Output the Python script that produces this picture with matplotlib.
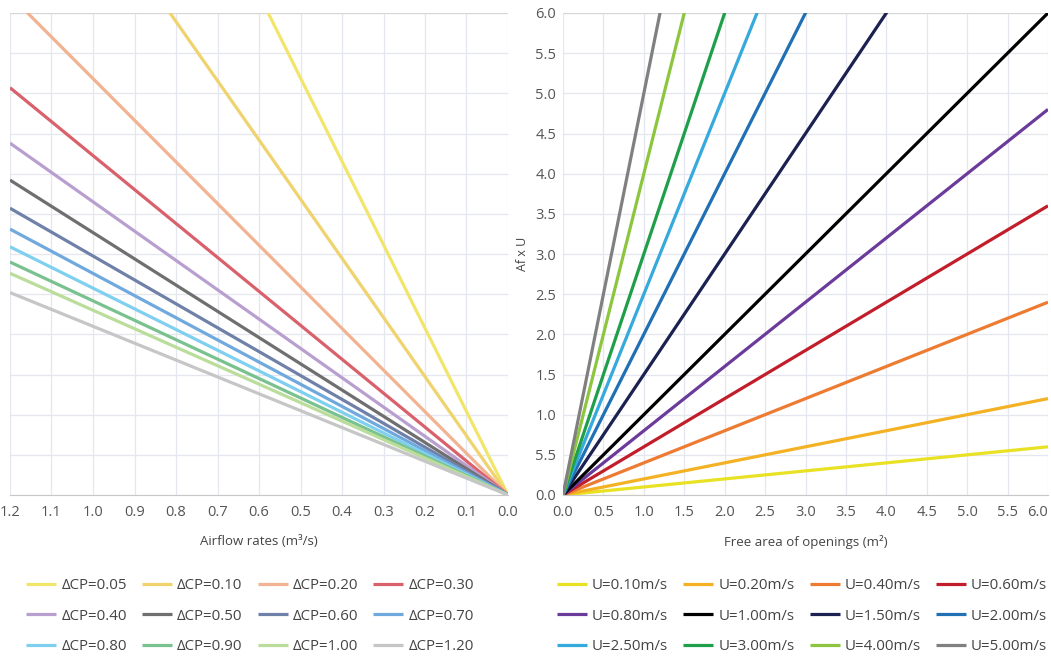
import matplotlib.pyplot as plt

plt.rcParams['font.family'] = ['Open Sans', 'DejaVu Sans']

# left panel: airflow lines, value of each line at x = 1.2
dcp_labels = ['ΔCP=0.05', 'ΔCP=0.10', 'ΔCP=0.20', 'ΔCP=0.30',
              'ΔCP=0.40', 'ΔCP=0.50', 'ΔCP=0.60', 'ΔCP=0.70',
              'ΔCP=0.80', 'ΔCP=0.90', 'ΔCP=1.00', 'ΔCP=1.20']
dcp_x = [0.0, 1.2]
dcp_end = [12.46, 8.84, 6.22, 5.07, 4.38, 3.92, 3.57, 3.31, 3.09, 2.90, 2.76, 2.52]
dcp_colors = ['#f1e56c', '#f0d36e', '#f1b391', '#d9616c', '#b99fcf', '#6f6f6f',
              '#6f80a9', '#70a9dd', '#7fd0ee', '#79c18e', '#badd9b', '#c6c6c6']

# right panel: Af x U lines, value of each line at x = 6.0
u_labels = ['U=0.10m/s', 'U=0.20m/s', 'U=0.40m/s', 'U=0.60m/s',
            'U=0.80m/s', 'U=1.00m/s', 'U=1.50m/s', 'U=2.00m/s',
            'U=2.50m/s', 'U=3.00m/s', 'U=4.00m/s', 'U=5.00m/s']
u_x = [0.0, 6.0]
u_end = [0.6, 1.2, 2.4, 3.6, 4.8, 6.0, 9.0, 12.0, 15.0, 18.0, 24.0, 30.0]
u_colors = ['#e9e123', '#f3b123', '#ed7b32', '#c11d2a', '#6b3b9b', '#000000',
            '#1b2150', '#2070b5', '#36a9dd', '#1f9f4a', '#8dc53e', '#808080']

x_ticks = [0.0, 0.1, 0.2, 0.3, 0.4, 0.5, 0.6, 0.7, 0.8, 0.9, 1.0, 1.1, 1.2]
x_ticks_r = [0.0, 0.5, 1.0, 1.5, 2.0, 2.5, 3.0, 3.5, 4.0, 4.5, 5.0, 5.5, 6.0]
y_ticks = [0.0, 0.5, 1.0, 1.5, 2.0, 2.5, 3.0, 3.5, 4.0, 4.5, 5.0, 5.5, 6.0]
y_ticklabels = ['0.0', '5.5', '1.0', '1.5', '2.0', '2.5', '3.0', '3.5',
                '4.0', '4.5', '5.0', '5.5', '6.0']

W, H = 1051, 657
fig = plt.figure(figsize=(W / 100, H / 100), dpi=100)

ax1 = fig.add_axes([10 / W, (H - 495) / H, 498 / W, 482 / H])
ax2 = fig.add_axes([563 / W, (H - 495) / H, 485 / W, 482 / H])

grid_c = '#e4e7ef'
tick_c = '#555555'

for ax in (ax1, ax2):
    ax.set_ylim(0, 6)
    ax.set_yticks(y_ticks)
    ax.grid(True, color=grid_c, linewidth=0.9)
    ax.set_axisbelow(True)
    for s in ('top', 'right', 'left'):
        ax.spines[s].set_visible(False)
    ax.spines['bottom'].set_color('#c8c8c8')
    ax.tick_params(length=0, labelsize=10.5, labelcolor=tick_c, pad=7)
    ax.tick_params(axis='y', pad=5)
    ax.axhline(6, color='#d6d6d6', linewidth=1.5, zorder=1)

# left
lines1 = []
for lab, end, c in zip(dcp_labels, dcp_end, dcp_colors):
    ln, = ax1.plot(dcp_x, [0, end], color=c, linewidth=2.3, label=lab,
                   solid_capstyle='butt')
    lines1.append(ln)
ax1.set_xlim(1.2, 0.0)
ax1.set_xticks(x_ticks)
ax1.set_xticklabels(['%.1f' % v for v in x_ticks])
ax1.tick_params(axis='y', labelleft=False)
ax1.set_xlabel('Airflow rates (m³/s)', fontsize=9.5, color='#444444', labelpad=11)

# right
lines2 = []
for lab, end, c in zip(u_labels, u_end, u_colors):
    ln, = ax2.plot(u_x, [0, end], color=c, linewidth=2.3, label=lab,
                   solid_capstyle='butt')
    lines2.append(ln)
ax2.set_xlim(0, 6.0)
ax2.set_xticks(x_ticks_r)
ax2.set_xticklabels(['%.1f' % v for v in x_ticks_r])
ax2.get_xticklabels()[-1].set_horizontalalignment('right')
ax2.set_yticklabels(y_ticklabels)
ax2.set_xlabel('Free area of openings (m²)', fontsize=9.5, color='#444444', labelpad=11)
ax2.set_ylabel('Af x U', fontsize=9, color='#444444', labelpad=4)

# legends, filled row by row
order = [0, 4, 8, 1, 5, 9, 2, 6, 10, 3, 7, 11]
leg_kw = dict(ncol=4, frameon=False, fontsize=10.8, handlelength=2.0,
              handletextpad=0.35, columnspacing=1.0, labelspacing=1.05,
              labelcolor='#444444')
fig.legend([lines1[i] for i in order], [dcp_labels[i] for i in order],
           loc='center', bbox_to_anchor=(250 / W, 1 - 616 / H), **leg_kw)
fig.legend([lines2[i] for i in order], [u_labels[i] for i in order],
           loc='center', bbox_to_anchor=(802 / W, 1 - 616 / H), **leg_kw)

fig.savefig('out.png', dpi=100)
